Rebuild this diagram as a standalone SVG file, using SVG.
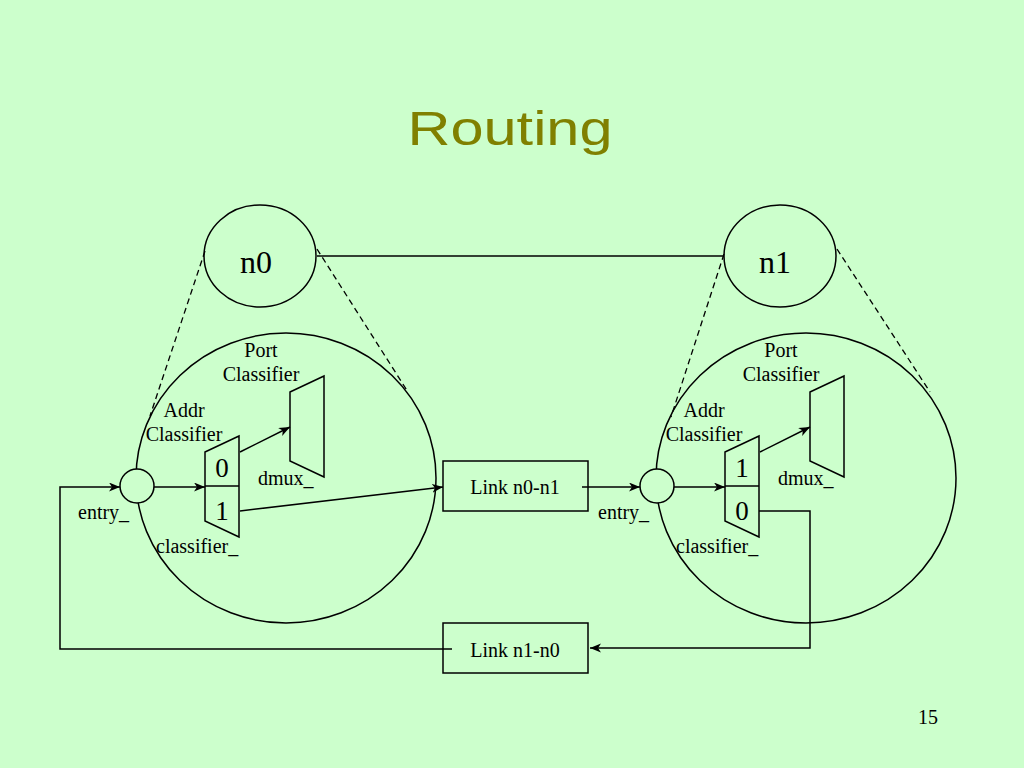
<svg xmlns="http://www.w3.org/2000/svg" width="1024" height="768" viewBox="0 0 1024 768">
<style>
.ln{fill:none;stroke:#000;stroke-width:1.5}
.dash{fill:none;stroke:#000;stroke-width:1.3;stroke-dasharray:6,4}
.bg{fill:#ccffcc;stroke:#000;stroke-width:1.5}
.t{font-family:"Liberation Serif","Times New Roman",serif;fill:#000;font-size:20px}
.c{text-anchor:middle}
.big{font-size:32px}
.dig{font-size:27px}
</style>
<defs>
<marker id="ar" markerUnits="userSpaceOnUse" markerWidth="12" markerHeight="10" refX="11" refY="4.5" orient="auto">
<path d="M0,0 L11,4.5 L0,9 L3,4.5 z" fill="#000"/>
</marker>
</defs>
<rect width="1024" height="768" fill="#ccffcc"/>
<text x="510" y="145" text-anchor="middle" font-family="Liberation Sans,Arial,sans-serif" font-size="48" fill="#808000" textLength="205" lengthAdjust="spacingAndGlyphs">Routing</text>

<g id="zoom-lines">
<line class="dash" x1="205" y1="251" x2="150" y2="416"/>
<line class="dash" x1="317" y1="249" x2="408" y2="392"/>
<line class="dash" x1="724" y1="254" x2="671" y2="417"/>
<line class="dash" x1="837" y1="249" x2="930" y2="392"/>
</g>

<g id="n0"><ellipse class="ln" cx="260" cy="256" rx="56" ry="51"/><text class="t big c" x="256" y="273">n0</text></g>
<g id="n1"><ellipse class="ln" cx="780" cy="256" rx="56" ry="51"/><text class="t big c" x="775" y="273">n1</text></g>

<g id="node0-detail"><ellipse class="ln" cx="286" cy="478" rx="150" ry="145"/></g>
<g id="node1-detail"><ellipse class="ln" cx="806" cy="478" rx="150" ry="145"/></g>

<g id="connectors">
<line class="ln" x1="317" y1="256" x2="724" y2="256"/>
<path class="ln" d="M452,649 H60 V487 H120" marker-end="url(#ar)"/>
<path class="ln" d="M154,487 H205" marker-end="url(#ar)"/>
<path class="ln" d="M240,452 L290,427" marker-end="url(#ar)"/>
<path class="ln" d="M240,511 L443,487" marker-end="url(#ar)"/>
<path class="ln" d="M582,487 H640" marker-end="url(#ar)"/>
<path class="ln" d="M674,487 H725" marker-end="url(#ar)"/>
<path class="ln" d="M760,452 L810,427" marker-end="url(#ar)"/>
<path class="ln" d="M759,511 H810 V648 H590" marker-end="url(#ar)"/>
</g>

<g id="entry0"><circle class="bg" cx="137" cy="486" r="17"/><text class="t" x="78" y="519">entry_</text></g>
<g id="entry1"><circle class="bg" cx="657" cy="486" r="17"/><text class="t" x="598" y="519">entry_</text></g>

<g id="classifier0">
<path class="ln" d="M205,452 L239,436 L239,537 L205,521 Z M205,486 H239"/>
<text class="t dig c" x="222" y="477">0</text>
<text class="t dig c" x="222" y="520">1</text>
<text class="t c" x="184" y="417">Addr</text>
<text class="t c" x="184" y="441">Classifier</text>
<text class="t" x="156" y="553">classifier_</text>
</g>
<g id="classifier1">
<path class="ln" d="M725,452 L759,436 L759,537 L725,521 Z M725,486 H759"/>
<text class="t dig c" x="742" y="477">1</text>
<text class="t dig c" x="742" y="520">0</text>
<text class="t c" x="704" y="417">Addr</text>
<text class="t c" x="704" y="441">Classifier</text>
<text class="t" x="676" y="553">classifier_</text>
</g>

<g id="dmux0">
<path class="ln" d="M290,392 L324,376 L324,477 L290,461 Z"/>
<text class="t c" x="261" y="357">Port</text>
<text class="t c" x="261" y="381">Classifier</text>
<text class="t" x="258" y="485">dmux_</text>
</g>
<g id="dmux1">
<path class="ln" d="M810,392 L844,376 L844,477 L810,461 Z"/>
<text class="t c" x="781" y="357">Port</text>
<text class="t c" x="781" y="381">Classifier</text>
<text class="t" x="778" y="485">dmux_</text>
</g>

<g id="link01"><rect class="ln" x="443" y="461" width="145" height="50"/><text class="t c" x="515" y="494">Link n0-n1</text></g>
<g id="link10"><rect class="ln" x="443" y="623" width="145" height="50"/><text class="t c" x="515" y="657">Link n1-n0</text></g>

<text class="t c" x="928" y="724">15</text>
</svg>
